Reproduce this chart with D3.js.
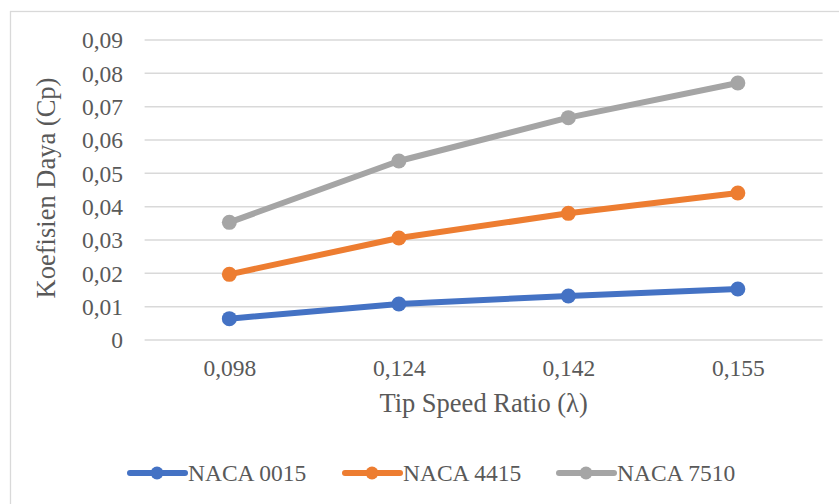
<!DOCTYPE html>
<html>
<head>
<meta charset="utf-8">
<script src="https://cdn.jsdelivr.net/npm/d3@7"></script>
<style>
  html, body { margin: 0; padding: 0; background: #ffffff; }
  svg { display: block; }
  text { font-family: "Liberation Serif", "Times New Roman", serif; fill: #595959; }
</style>
</head>
<body>
<svg id="chart" width="839" height="504"></svg>
<script>
const categories = ["0,098", "0,124", "0,142", "0,155"];
const seriesNames = ["NACA 0015", "NACA 4415", "NACA 7510"];
const naca0015 = [0.0064, 0.0108, 0.0132, 0.0153];
const naca4415 = [0.0197, 0.0306, 0.0380, 0.0441];
const naca7510 = [0.0353, 0.0537, 0.0667, 0.0771];
const yTicks = [0, 0.01, 0.02, 0.03, 0.04, 0.05, 0.06, 0.07, 0.08, 0.09];
const colors = ["#4472C4", "#ED7D31", "#A5A5A5"];

const seriesData = [naca0015, naca4415, naca7510];

const svg = d3.select("#chart");

// outer chart border (extends past the picture)
svg.append("rect")
  .attr("x", 10.5).attr("y", 11.5)
  .attr("width", 900).attr("height", 600)
  .attr("fill", "#fff").attr("stroke", "#D9D9D9").attr("stroke-width", 1.3);

const plot = { left: 144.6, right: 822.6, top: 40, bottom: 340 };

const x = d3.scalePoint().domain(categories).range([plot.left, plot.right]).padding(0.5);
const y = d3.scaleLinear().domain([0, 0.09]).range([plot.bottom, plot.top]);

// gridlines
svg.append("g").selectAll("line").data(yTicks).join("line")
  .attr("x1", plot.left).attr("x2", plot.right)
  .attr("y1", d => y(d)).attr("y2", d => y(d))
  .attr("stroke", "#D9D9D9").attr("stroke-width", 1.5);

// y axis labels
const yAxis = d3.axisLeft(y).tickValues(yTicks).tickSize(0).tickPadding(0)
  .tickFormat(d => d === 0 ? "0" : d3.format(".2f")(d).replace(".", ","));
const gy = svg.append("g").attr("transform", `translate(123,0)`).call(yAxis);
gy.select(".domain").remove();
gy.selectAll("text")
  .attr("font-family", "Liberation Serif, Times New Roman, serif")
  .attr("font-size", 23.5).attr("fill", "#595959").attr("x", 0).attr("dy", "0.33em");

// x axis labels
const xAxis = d3.axisBottom(x).tickSize(0).tickPadding(0);
const gx = svg.append("g").attr("transform", `translate(0,376)`).call(xAxis);
gx.select(".domain").remove();
gx.selectAll("text")
  .attr("font-family", "Liberation Serif, Times New Roman, serif")
  .attr("font-size", 23.5).attr("fill", "#595959").attr("y", 0).attr("dy", 0);

// axis titles
svg.append("text")
  .attr("x", (plot.left + plot.right) / 2) .attr("y", 412)
  .attr("text-anchor", "middle").attr("font-size", 26.5)
  .text("Tip Speed Ratio (λ)");

svg.append("text")
  .attr("transform", `translate(55,188) rotate(-90)`)
  .attr("text-anchor", "middle").attr("font-size", 26.5)
  .text("Koefisien Daya (Cp)");

// lines and markers
const line = d3.line().x((d, i) => x(categories[i])).y(d => y(d));
seriesData.forEach((vals, si) => {
  const g = svg.append("g");
  g.append("path").datum(vals)
    .attr("d", line).attr("fill", "none")
    .attr("stroke", colors[si]).attr("stroke-width", 6)
    .attr("stroke-linejoin", "round").attr("stroke-linecap", "round");
  g.selectAll("circle").data(vals).join("circle")
    .attr("cx", (d, i) => x(categories[i])).attr("cy", d => y(d))
    .attr("r", 7.5).attr("fill", colors[si]);
});

// legend
const legendX = [130, 345, 559];
const lg = svg.append("g");
seriesNames.forEach((name, i) => {
  const g = lg.append("g").attr("transform", `translate(${legendX[i]},473)`);
  g.append("line").attr("x1", 0).attr("x2", 55).attr("y1", 0).attr("y2", 0)
    .attr("stroke", colors[i]).attr("stroke-width", 6).attr("stroke-linecap", "round");
  g.append("circle").attr("cx", 27).attr("cy", 0).attr("r", 6.5).attr("fill", colors[i]);
  g.append("text").attr("x", 58).attr("y", 0).attr("dy", "0.33em")
    .attr("font-size", 23.5).text(name);
});
</script>
</body>
</html>
